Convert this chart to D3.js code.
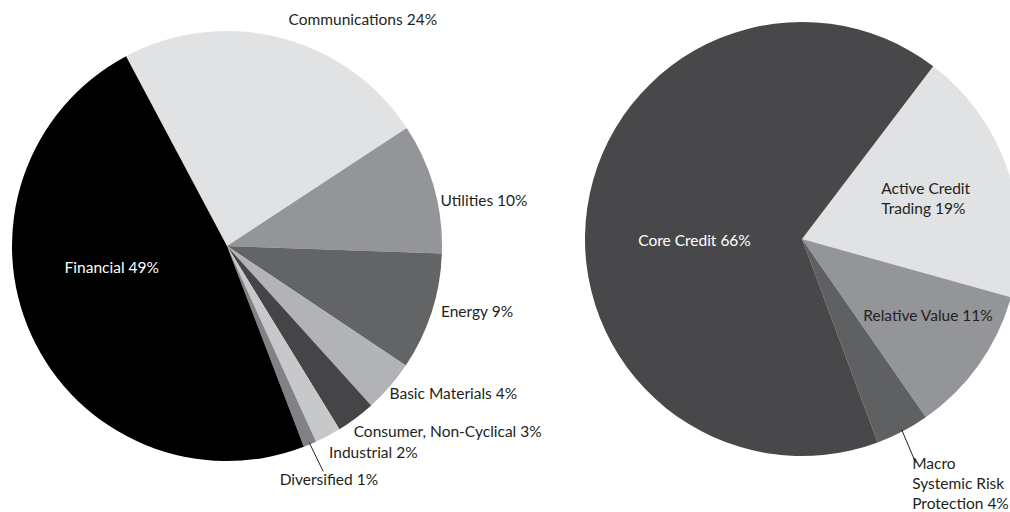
<!DOCTYPE html>
<html>
<head>
<meta charset="utf-8">
<script src="https://cdn.jsdelivr.net/npm/d3@7/dist/d3.min.js"></script>
<style>
  body { margin: 0; background: #fff; }
  text { font-family: Lato, "Open Sans", sans-serif; font-size: 15.5px; }
</style>
</head>
<body>
<div id="vis"></div>
<script>
var w = 1010, h = 512;

// left pie - sectors
var sectorNames = ["Communications", "Utilities", "Energy", "Basic Materials",
                   "Consumer, Non-Cyclical", "Industrial", "Diversified", "Financial"];
var sectorValues = [24, 10, 9, 4, 3, 2, 1, 49];
var sectorColors = ["#e1e2e3", "#939598", "#636466", "#b1b3b6",
                    "#454547", "#c7c8ca", "#808285", "#000000"];

// right pie - strategies
var stratNames = ["Active Credit Trading", "Relative Value", "Macro Systemic Risk Protection", "Core Credit"];
var stratValues = [19, 11, 4, 66];
var stratColors = ["#e1e2e3", "#939598", "#5f6062", "#48484a"];

// label lines (text broken by hand like the original)
var sectorLabels = [["Communications 24%"], ["Utilities 10%"], ["Energy 9%"], ["Basic Materials 4%"],
                    ["Consumer, Non-Cyclical 3%"], ["Industrial 2%"], ["Diversified 1%"], ["Financial 49%"]];
var stratLabels = [["Active Credit", "Trading 19%"], ["Relative Value 11%"],
                   ["Macro", "Systemic Risk", "Protection 4%"], ["Core Credit 66%"]];

var deg = Math.PI / 180;

var svg = d3.select("#vis").append("svg")
    .attr("width", w)
    .attr("height", h);

function drawPie(opts) {
  var pie = d3.pie()
      .sort(null)
      .value(function(d){ return d; })
      .startAngle(opts.start * deg)
      .endAngle(opts.start * deg + 2 * Math.PI);

  var arcs = pie(opts.values);

  var arc = d3.arc().innerRadius(0).outerRadius(opts.r);

  var g = svg.append("g")
      .attr("transform", "translate(" + opts.cx + "," + opts.cy + ")");

  g.selectAll("path")
    .data(arcs)
    .enter()
    .append("path")
    .attr("d", arc)
    .attr("fill", function(d, i){ return opts.colors[i]; });

  // labels: anchored on an arc at a given radius, then nudged
  var lab = g.selectAll("text.lab")
    .data(arcs)
    .enter()
    .append("text")
    .attr("class", "lab")
    .attr("fill", function(d, i){ return opts.place[i].fill || "#231f20"; })
    .attr("transform", function(d, i){
        var p = opts.place[i];
        var c = d3.arc().innerRadius(p.r).outerRadius(p.r).centroid(d);
        return "translate(" + (c[0] + p.dx) + "," + (c[1] + p.dy) + ")";
    })
    .attr("text-anchor", function(d, i){ return opts.place[i].anchor || "start"; });

  lab.selectAll("tspan")
    .data(function(d, i){ return opts.labels[i]; })
    .enter()
    .append("tspan")
    .attr("x", 0)
    .attr("dy", function(d, j){ return j == 0 ? 0 : 20; })
    .text(function(d){ return d; });

  // leader lines for the thin slices
  opts.leaders.forEach(function(l){
    var d = arcs[l.i];
    var a = (d.startAngle + d.endAngle) / 2;
    g.append("line")
      .attr("x1", Math.sin(a) * (opts.r - 2))
      .attr("y1", -Math.cos(a) * (opts.r - 2))
      .attr("x2", Math.sin(a) * (opts.r - 2) + l.dx)
      .attr("y2", -Math.cos(a) * (opts.r - 2) + l.dy)
      .attr("stroke", "#231f20")
      .attr("stroke-width", 1);
  });
}

drawPie({
  cx: 227, cy: 246, r: 215, start: -28,
  values: sectorValues, colors: sectorColors, labels: sectorLabels,
  place: [
    {r: 228, dx: 5, dy: 0},
    {r: 228, dx: -6, dy: 21},
    {r: 228, dx: -3, dy: 1},
    {r: 228, dx: -10, dy: 4},
    {r: 228, dx: -10, dy: 8},
    {r: 228, dx: -5, dy: 11},
    {r: 240, dx: -40, dy: 18},
    {r: 120, dx: -6, dy: -23, anchor: "middle", fill: "#ffffff"}
  ],
  leaders: [{i: 6, dx: 14, dy: 29}]
});

drawPie({
  cx: 802, cy: 239, r: 217, start: 37.2,
  values: stratValues, colors: stratColors, labels: stratLabels,
  place: [
    {r: 130, dx: -44, dy: -4},
    {r: 150, dx: -61, dy: -5},
    {r: 240, dx: -1, dy: 17},
    {r: 110, dx: -55, dy: 23, fill: "#ffffff"}
  ],
  leaders: [{i: 2, dx: 14, dy: 33}]
});
</script>
</body>
</html>
